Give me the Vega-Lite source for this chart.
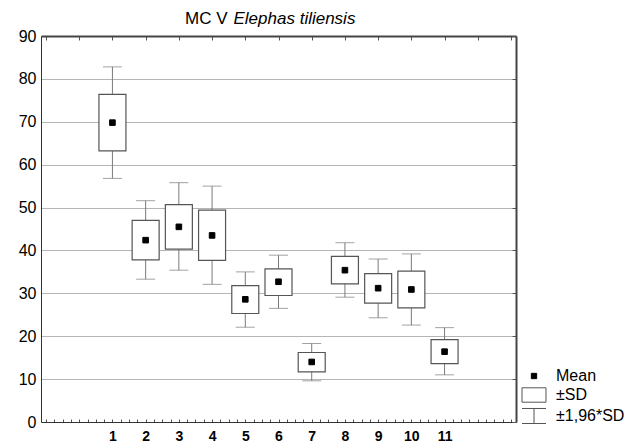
{
  "$schema": "https://vega.github.io/schema/vega-lite/v6.json",
  "width": 475,
  "height": 386,
  "autosize": {"type": "none"},
  "padding": {"left": 41, "top": 36, "right": 124, "bottom": 24},
  "background": "white",
  "config": {"view": {"stroke": null}, "font": "Liberation Sans"},
  "title": {
    "text": "MC V",
    "anchor": "start",
    "frame": "group",
    "dx": 144,
    "dy": 32,
    "offset": 0,
    "baseline": "alphabetic",
    "fontSize": 17,
    "fontWeight": "normal",
    "font": "Liberation Sans",
    "color": "black"
  },
  "data": {
    "values": [
      {"cat": 1, "mean": 69.8, "sdlo": 63.2, "sdhi": 76.4, "lo": 56.8, "hi": 82.8, "leg": "Mean"},
      {"cat": 2, "mean": 42.4, "sdlo": 37.8, "sdhi": 47.0, "lo": 33.3, "hi": 51.6, "leg": "Mean"},
      {"cat": 3, "mean": 45.5, "sdlo": 40.3, "sdhi": 50.7, "lo": 35.4, "hi": 55.8, "leg": "Mean"},
      {"cat": 4, "mean": 43.5, "sdlo": 37.7, "sdhi": 49.4, "lo": 32.1, "hi": 55.0, "leg": "Mean"},
      {"cat": 5, "mean": 28.6, "sdlo": 25.3, "sdhi": 31.8, "lo": 22.1, "hi": 35.0, "leg": "Mean"},
      {"cat": 6, "mean": 32.7, "sdlo": 29.5, "sdhi": 35.7, "lo": 26.5, "hi": 38.9, "leg": "Mean"},
      {"cat": 7, "mean": 14.0, "sdlo": 11.7, "sdhi": 16.2, "lo": 9.6, "hi": 18.3, "leg": "Mean"},
      {"cat": 8, "mean": 35.4, "sdlo": 32.2, "sdhi": 38.6, "lo": 29.1, "hi": 41.8, "leg": "Mean"},
      {"cat": 9, "mean": 31.2, "sdlo": 27.7, "sdhi": 34.6, "lo": 24.3, "hi": 38.0, "leg": "Mean"},
      {"cat": 10, "mean": 30.9, "sdlo": 26.6, "sdhi": 35.2, "lo": 22.6, "hi": 39.2, "leg": "Mean"},
      {"cat": 11, "mean": 16.4, "sdlo": 13.6, "sdhi": 19.2, "lo": 11.0, "hi": 22.0, "leg": "Mean"}
    ]
  },
  "layer": [
    {
      "mark": {"type": "rule", "color": "#7a7a7a", "strokeWidth": 1},
      "encoding": {
        "x": {
          "field": "cat", "type": "quantitative",
          "scale": {"domain": [-1, 13], "nice": false, "zero": false},
          "axis": {
            "orient": "bottom", "title": null, "grid": false,
            "values": [-1,-0.75,-0.5,-0.25,0,0.25,0.5,0.75,1,1.25,1.5,1.75,2,2.25,2.5,2.75,3,3.25,3.5,3.75,4,4.25,4.5,4.75,5,5.25,5.5,5.75,6,6.25,6.5,6.75,7,7.25,7.5,7.75,8,8.25,8.5,8.75,9,9.25,9.5,9.75,10,10.25,10.5,10.75,11,11.25,11.5,11.75,12,12.25,12.5,12.75,13],
            "labelExpr": "(datum.value >= 1 && datum.value <= 11 && datum.value % 1 == 0) ? ('' + datum.value) : ''",
            "domain": true, "domainColor": "#333", "domainWidth": 1,
            "ticks": true, "tickSize": -3, "tickColor": "#555", "tickWidth": 1,
            "labelFont": "Liberation Sans Narrow, Liberation Sans",
            "labelFontWeight": "bold", "labelFontSize": 14, "labelColor": "black",
            "labelPadding": 10, "labelOverlap": false, "labelFlush": false
          }
        },
        "y": {
          "field": "lo", "type": "quantitative",
          "scale": {"domain": [0, 90], "nice": false, "zero": false},
          "axis": {
            "orient": "left", "title": null,
            "values": [0,10,20,30,40,50,60,70,80,90],
            "grid": true, "gridColor": "#b5b5b5", "gridWidth": 1,
            "ticks": false, "domain": true, "domainColor": "#333", "domainWidth": 1,
            "labelFontSize": 16, "labelPadding": 5, "labelColor": "black", "labelFont": "Liberation Sans"
          }
        },
        "y2": {"field": "hi"}
      }
    },
    {
      "mark": {"type": "tick", "orient": "horizontal", "color": "#7a7a7a", "size": 19, "thickness": 1},
      "encoding": {
        "x": {
          "field": "cat", "type": "quantitative",
          "axis": {
            "orient": "top", "values": [-1,0,1,2,3,4,5,6,7,8,9,10,11,12,13],
            "labels": false, "grid": false,
            "ticks": true, "tickSize": -4, "tickColor": "#555",
            "domain": true, "domainColor": "#444", "domainWidth": 2,
            "title": "Elephas tiliensis", "titleFont": "Liberation Sans", "titleFontStyle": "italic",
            "titleFontWeight": "normal", "titleFontSize": 17, "titleColor": "black",
            "titleX": 192, "titleY": -13, "titleAlign": "left", "titleBaseline": "alphabetic"
          }
        },
        "y": {"field": "lo", "type": "quantitative", "axis": null}
      }
    },
    {
      "mark": {"type": "tick", "orient": "horizontal", "color": "#7a7a7a", "size": 19, "thickness": 1},
      "encoding": {
        "x": {"field": "cat", "type": "quantitative", "axis": null},
        "y": {
          "field": "hi", "type": "quantitative",
          "axis": {
            "orient": "right", "values": [0,10,20,30,40,50,60,70,80,90],
            "labels": false, "grid": false, "title": null,
            "ticks": true, "tickSize": -4, "tickColor": "#555",
            "domain": true, "domainColor": "#444", "domainWidth": 2
          }
        }
      }
    },
    {
      "mark": {"type": "bar", "size": 27, "fill": "white", "stroke": "#555", "strokeWidth": 1.2},
      "encoding": {
        "x": {"field": "cat", "type": "quantitative", "axis": null},
        "y": {"field": "sdlo", "type": "quantitative", "axis": null},
        "y2": {"field": "sdhi"}
      }
    },
    {
      "mark": {"type": "point", "filled": true, "size": 400, "strokeWidth": 1, "opacity": 1},
      "encoding": {
        "x": {"field": "cat", "type": "quantitative", "axis": null},
        "y": {"field": "mean", "type": "quantitative", "axis": null},
        "shape": {
          "field": "leg", "type": "nominal",
          "scale": {
            "domain": ["Mean", "±SD", "±1,96*SD"],
            "range": ["M-0.28,-0.28H0.28V0.28H-0.28Z", "M-1.263,-0.758H1.263V0.758H-1.263Z", "M-1.263,-0.79H1.263M0,-0.79V0.79M-1.263,0.79H1.263"]
          },
          "legend": {
            "title": null, "orient": "none", "legendX": 483, "legendY": 330,
            "symbolSize": 361, "labelFontSize": 16, "labelFont": "Liberation Sans", "labelColor": "black",
            "rowPadding": 1, "labelOffset": 12, "padding": 0, "symbolStrokeWidth": 1
          }
        },
        "fill": {
          "field": "leg", "type": "nominal",
          "scale": {"domain": ["Mean", "±SD", "±1,96*SD"], "range": ["black", "white", "white"]},
          "legend": {
            "title": null, "orient": "none", "legendX": 483, "legendY": 330,
            "symbolSize": 361, "labelFontSize": 16, "labelFont": "Liberation Sans", "labelColor": "black",
            "rowPadding": 1, "labelOffset": 12, "padding": 0, "symbolStrokeWidth": 1
          }
        },
        "stroke": {
          "field": "leg", "type": "nominal",
          "scale": {"domain": ["Mean", "±SD", "±1,96*SD"], "range": ["black", "#555", "#555"]},
          "legend": {
            "title": null, "orient": "none", "legendX": 483, "legendY": 330,
            "symbolSize": 361, "labelFontSize": 16, "labelFont": "Liberation Sans", "labelColor": "black",
            "rowPadding": 1, "labelOffset": 12, "padding": 0, "symbolStrokeWidth": 1
          }
        }
      }
    }
  ]
}
